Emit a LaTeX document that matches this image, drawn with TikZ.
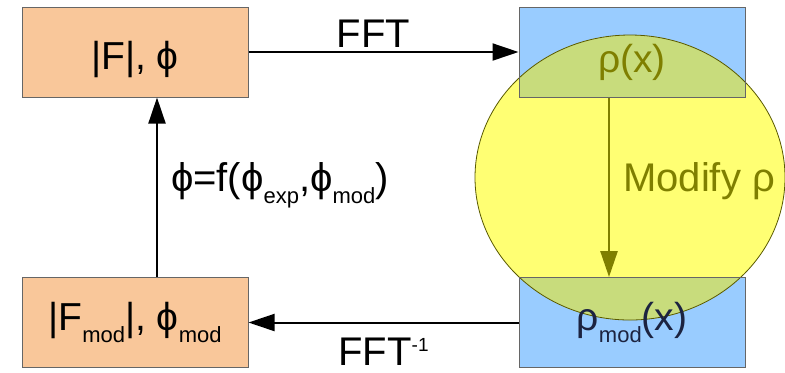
\documentclass[tikz,border=0pt]{standalone}
\usepackage{fontspec}
\setmainfont{Liberation Sans}
\usetikzlibrary{arrows.meta,backgrounds}

\definecolor{peach}{HTML}{F9C79A}
\definecolor{skyblue}{HTML}{99CCFF}
\definecolor{lemon}{HTML}{FFFF73}
\definecolor{limegreen}{HTML}{C8DC7C}
\definecolor{darkolive}{HTML}{7F7F00}
\definecolor{navytext}{HTML}{1C2340}

\newcommand\lowsub[1]{\raisebox{-0.32em}{\fontsize{11}{12}\selectfont #1}}
\newcommand\highsup[1]{\raisebox{7pt}{\fontsize{9.5}{10}\selectfont #1}}
\newcommand\sinkby[2]{\raisebox{-#1}[\height][\depth]{#2}}

\begin{document}
\begin{tikzpicture}[
      x=0.5pt, y=-0.5pt,
      box/.style={draw=black!60, line width=0.5pt, minimum width=113pt,
                  minimum height=45pt, inner sep=0pt, align=center,
                  font=\fontsize{19.5}{22}\selectfont},
      arr/.style={-{Triangle[length=13pt,width=8.5pt]}, line width=1pt},
      lbl/.style={font=\fontsize{20}{22}\selectfont, inner sep=0pt}
    ]
      \useasboundingbox (0,0) rectangle (785,372);
      % Structure factors
      \node[box, fill=peach] (fphi) at (135,52)
        {\sinkby{3.5pt}{|F|, ϕ}};
      \node[box, fill=peach] (fmod) at (135,322.5)
        {|F\lowsub{mod}|, ϕ\lowsub{mod}};
      % Densities
      \node[box] (rho) at (632,52)
        {\sinkby{5pt}{\color{darkolive}ρ(x)}};
      \node[box] (rhomod) at (632,322.5)
        {\color{navytext}ρ\lowsub{mod}(x)};
      \coordinate (blob) at (630,177.5);

      \begin{scope}[on background layer]
        \fill[skyblue] (rho.south west) rectangle (rho.north east);
        \fill[skyblue] (rhomod.south west) rectangle (rhomod.north east);
        \fill[lemon] (blob) ellipse [x radius=77.5pt, y radius=71.25pt];
        \begin{scope}
          \clip (blob) ellipse [x radius=77.5pt, y radius=71.25pt];
          \fill[limegreen] (rho.south west) rectangle (rho.north east);
          \fill[limegreen] (rhomod.south west) rectangle (rhomod.north east);
        \end{scope}
        \draw[darkolive!70!black, line width=0.4pt] (blob)
          ellipse [x radius=77.5pt, y radius=71.25pt];
      \end{scope}

      \draw[arr] (fphi) -- node[lbl, midway, above, xshift=-5pt, yshift=2pt]{FFT} (rho);
      \draw[arr] (rhomod) -- node[lbl, midway, below, yshift=-7pt]{FFT\highsup{-1}} (fmod);
      \draw[arr] ([xshift=11pt]fmod.north) -- ([xshift=11pt]fphi.south)
        node[lbl, midway, anchor=west, xshift=6.5pt, yshift=1pt]
        {ϕ=f(ϕ\lowsub{exp},ϕ\lowsub{mod})};
      \draw[arr, darkolive, line width=1.3pt] ([xshift=-11.5pt]rho.south) -- ([xshift=-11.5pt]rhomod.north)
        node[lbl, midway, anchor=west, xshift=6.5pt, yshift=3pt, text=darkolive]{Modify ρ};
    \end{tikzpicture}
\end{document}
